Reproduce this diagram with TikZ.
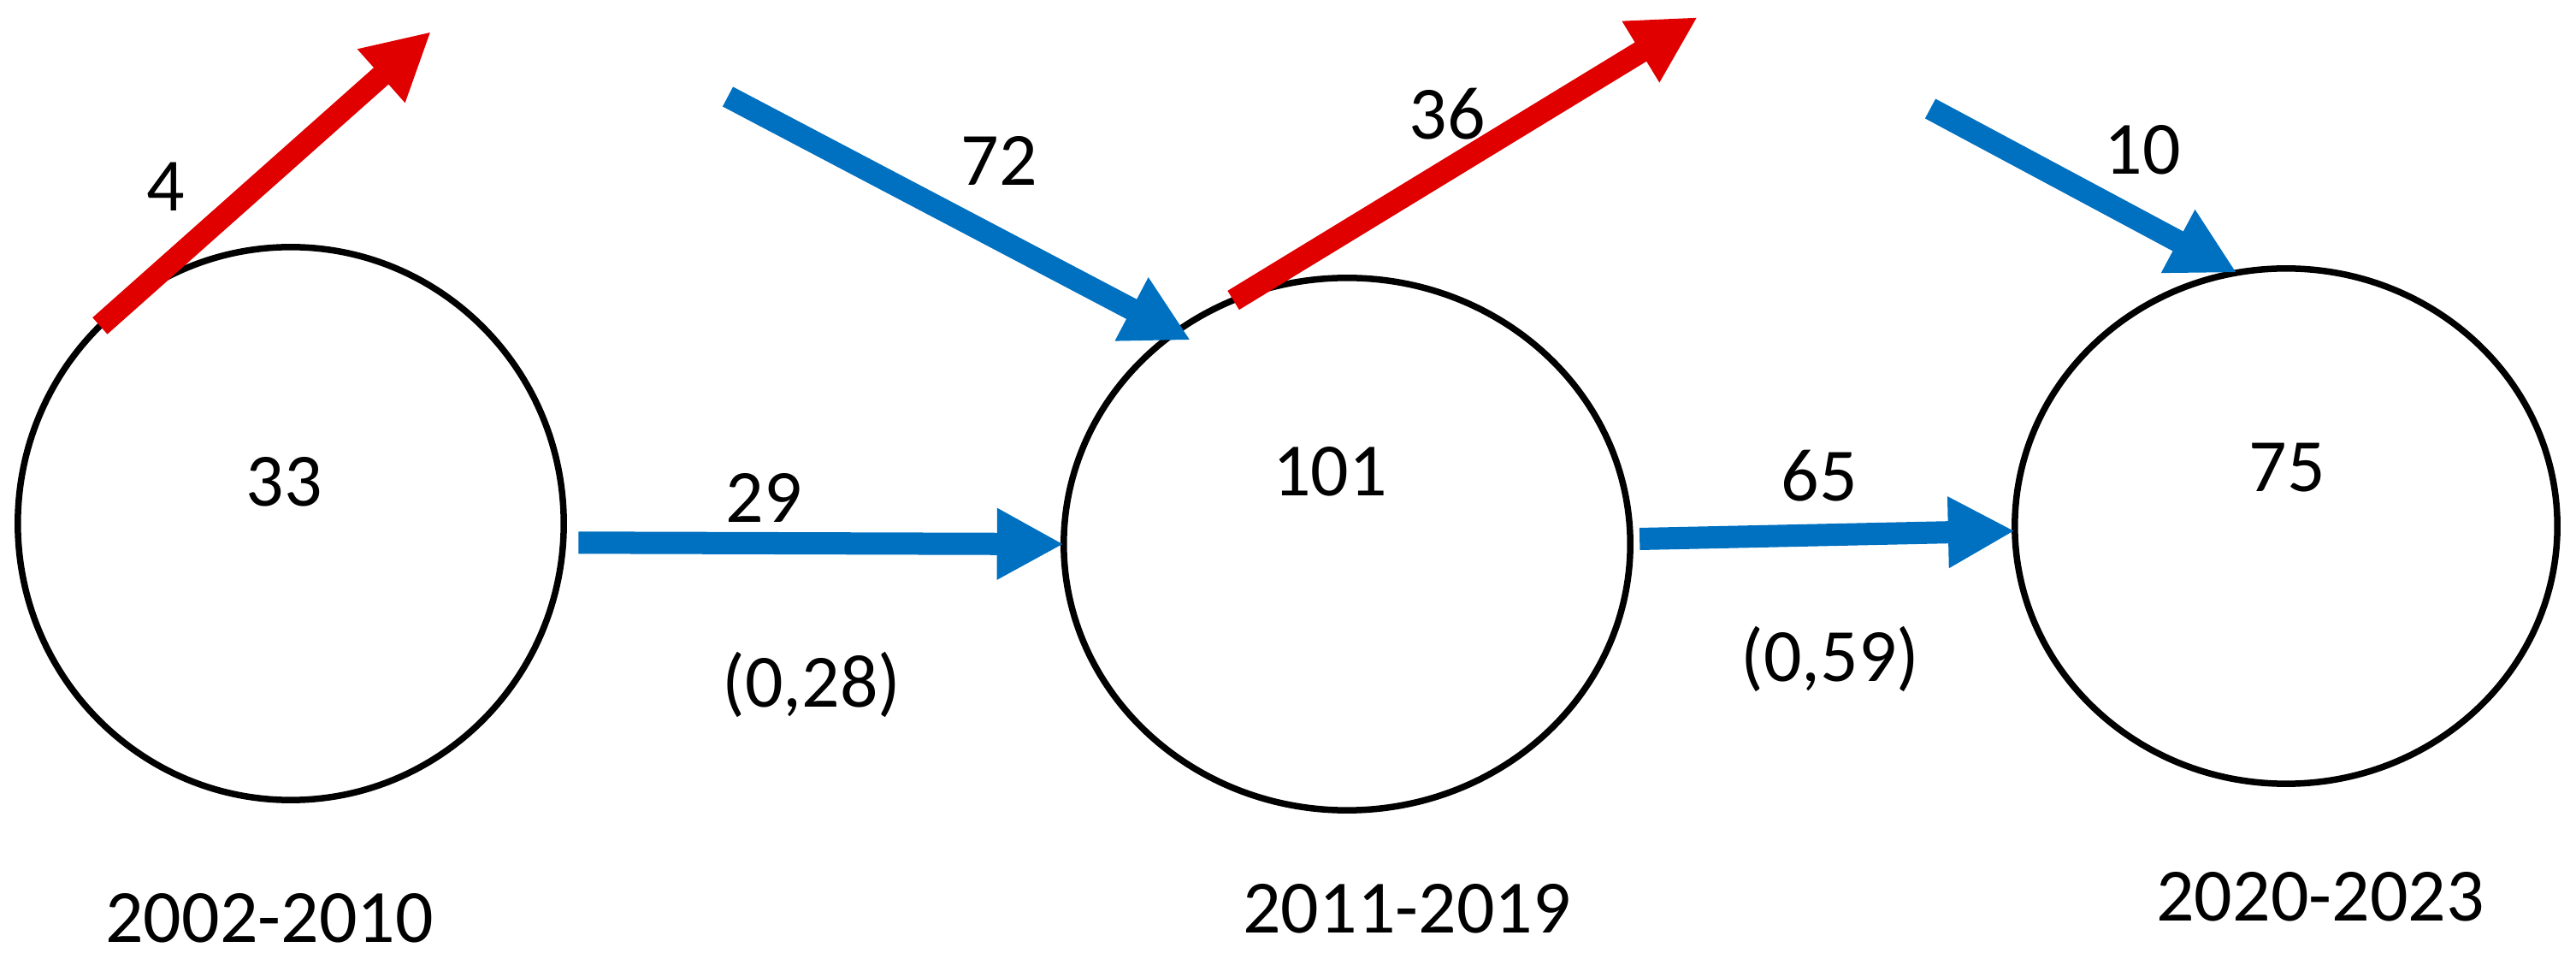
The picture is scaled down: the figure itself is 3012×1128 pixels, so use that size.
\documentclass[tikz,border=0pt]{standalone}
\usepackage{fontspec}
\setmainfont{Carlito}
\usetikzlibrary{arrows.meta,shapes.geometric}
\definecolor{flowblue}{HTML}{0070C0}
\definecolor{flowred}{HTML}{E00000}
\begin{document}
\begin{tikzpicture}[x=0.01cm,y=-0.01cm,
  period/.style={ellipse,draw=black,line width=0.075cm,inner sep=0pt,outer sep=0pt},
  lbl/.style={anchor=base,inner sep=0pt,font=\fontsize{25}{30}\selectfont},
  flow/.style={line width=0.26cm,-{Triangle[length=0.78cm,width=0.78cm]}},
  blueflow/.style={flow,color=flowblue},
  redflow/.style={flow,color=flowred}]
\useasboundingbox (0,0) rectangle (3012,1128);
% periods
\node[period,minimum width=6.38cm,minimum height=6.46cm] (e1) at (340,612) {};
\node[period,minimum width=6.62cm,minimum height=6.22cm] (e2) at (1575,636) {};
\node[period,minimum width=6.34cm,minimum height=6.02cm] (e3) at (2673,615) {};
% texts
\node[lbl] (n33) at (332,592) {33};
\node[lbl] (n101) at (1555,580) {101};
\node[lbl] (n75) at (2674,575) {75};
\node[lbl] (t29) at (893,611) {29};
\node[lbl] (p28) at (949,827) {(0,28)};
\node[lbl] (t65) at (2127,586) {65};
\node[lbl] (p59) at (2140,796) {(0,59)};
\node[lbl] (y1) at (315,1101) {2002-2010};
\node[lbl] (y2) at (1645,1090) {2011-2019};
\node[lbl] (y3) at (2713,1076) {2020-2023};
\node[lbl] (t4) at (194,247) {4};
\node[lbl] (t72) at (1168,217) {72};
\node[lbl] (t36) at (1692,163) {36};
\node[lbl] (t10) at (2505,204) {10};
% free ends
\coordinate (out4) at (504,37);
\coordinate (in72) at (851,113);
\coordinate (out36) at (1985,20);
\coordinate (in10) at (2257,127);
% flows
\draw[blueflow,shorten <=0.18cm] (e1.-4) -- (e2.west);
\draw[blueflow,shorten <=0.11cm] (e2.1) -- (e3.181);
\draw[redflow] (e1.134) -- (out4);
\draw[blueflow,shorten >=-0.2cm] (in72) -- (e2.129);
\draw[redflow] (e2.115) -- (out36);
\draw[blueflow] (in10) -- (e3.101);
\end{tikzpicture}
\end{document}
